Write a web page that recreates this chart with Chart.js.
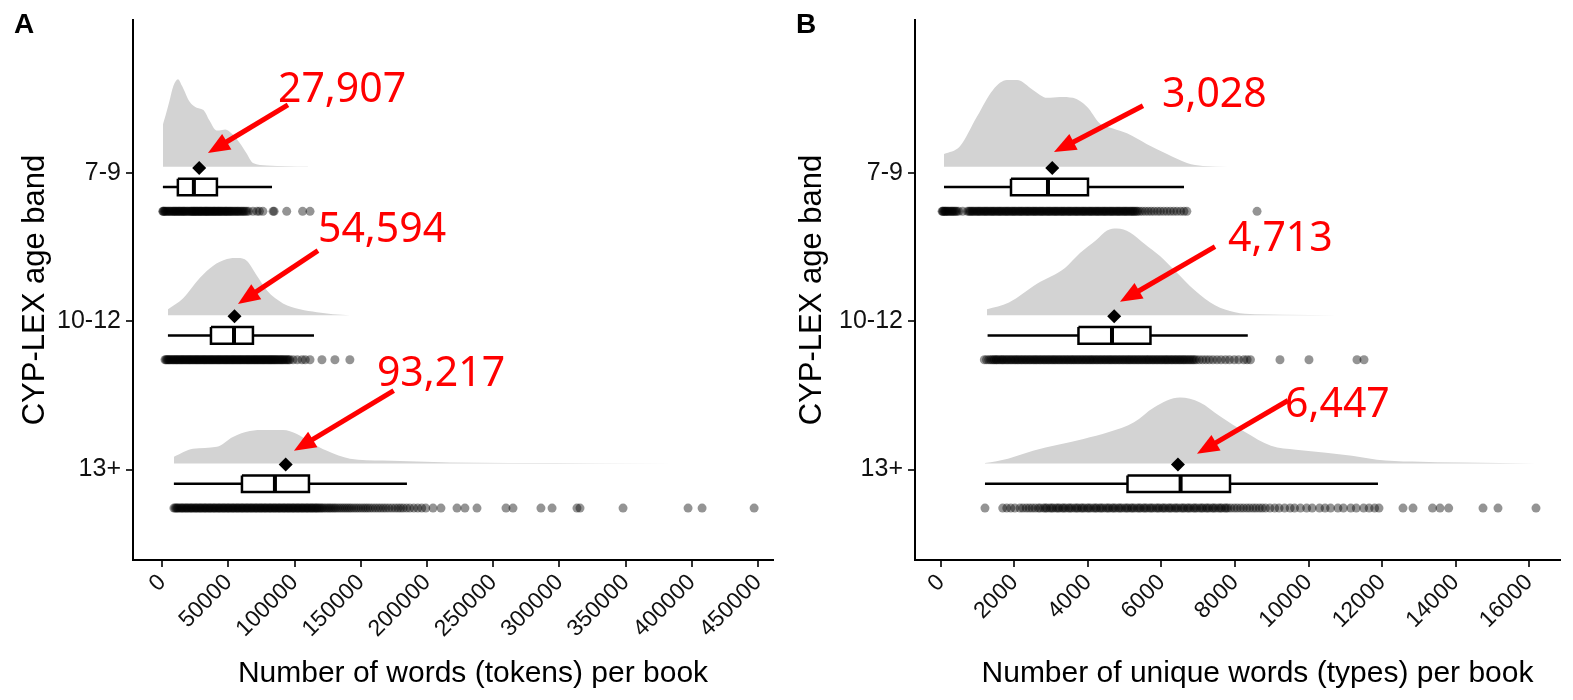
<!DOCTYPE html>
<html>
<head>
<meta charset="utf-8">
<script src="https://cdn.jsdelivr.net/npm/chart.js@4.4.1/dist/chart.umd.min.js"></script>
<style>
  body { margin: 0; background: #fff; }
  .wrap { display: flex; width: 1573px; height: 700px; }
</style>
</head>
<body>
<div class="wrap">
  <canvas id="panelA" width="786" height="700"></canvas>
  <canvas id="panelB" width="787" height="700"></canvas>
</div>
<script>
// age bands, top to bottom, and where they sit on the y scale
const ageBands = ['7-9', '10-12', '13+'];
const bandPos = [3, 2, 1];

// ---------- panel A: number of words (tokens) per book ----------
const tokenTicks = [0, 50000, 100000, 150000, 200000, 250000, 300000, 350000, 400000, 450000];
const tokenMeans = [27907, 54594, 93217];
// [lower whisker, q1, median, q3, upper whisker]
const tokenBox79 = [500, 11800, 23900, 41300, 82900];
const tokenBox1012 = [4300, 36800, 54200, 68500, 114600];
const tokenBox13 = [8800, 60200, 85100, 110800, 184800];
// density outline: x values and height (pixels of the original plot)
const tokenDensX79 = [500, 2500, 5300, 8400, 11900, 15000, 20700, 26000, 28800, 31600, 35700, 40900, 43000, 47600, 53100, 58700, 63500, 68500, 79000, 110000];
const tokenDensH79 = [43, 52, 66, 82, 89, 82, 66, 60, 59, 57, 47, 37, 37, 38, 33, 24, 14, 4, 1.5, 0.3];
const tokenDensX1012 = [4300, 15600, 28500, 38300, 48900, 57200, 64000, 71500, 79100, 91200, 104000, 116800, 128900, 141800];
const tokenDensH1012 = [6, 17, 38, 50, 57, 58, 55, 40, 25, 12, 6, 3, 1, 0];
const tokenDensX13 = [8800, 23200, 41300, 53400, 66200, 77600, 91200, 101700, 111500, 124400, 141800, 166600, 192400, 217300, 262600, 330600, 445400];
const tokenDensH13 = [7, 15, 17, 27, 33, 34, 34, 30, 22, 13, 5, 3, 2, 1, 0.6, 0.4, 0];
// individual books (rain)
const tokenPts79 = [400, 800, 1200, 1900, 2500, 3300, 4100, 4800, 5600, 6300, 7100, 8000, 8600, 9200, 9900, 10500, 11300, 12000, 12600, 13300, 13900,
  14700, 15400, 16000, 16600, 17200, 18100, 18800, 19500, 20400, 21100, 21800, 22300, 22900, 23500, 24000, 24600, 25200, 25800, 26300,
  26900, 27600, 28200, 28700, 29300, 29800, 30500, 31200, 31800, 32300, 33000, 33500, 34000, 34600, 35200, 35900, 36500, 37000, 37700,
  38400, 39000, 39500, 40100, 40800, 41500, 42100, 42700, 43300, 44000, 44600, 45300, 46000, 46800, 47500, 48100, 48700, 49400, 50200,
  50900, 51600, 52300, 53100, 54000, 54800, 55600, 56500, 57200, 58000, 59000, 59900, 60800, 61700, 62700, 63800, 65200, 68500, 71600,
  73400, 76000, 83700, 84500, 94000, 106000, 111600];
const tokenPts1012 = [2100, 2800, 3500, 4200, 4900, 5500, 6200, 7000, 7800, 8400, 9100, 9900, 10600, 11200, 11900, 12700, 13400, 14100, 14800,
  15400, 16100, 16800, 17500, 18200, 18900, 19600, 20300, 20900, 21600, 22300, 23000, 23700, 24400, 25100, 25800, 26400, 27100, 27800,
  28500, 29200, 29900, 30600, 31300, 31900, 32600, 33300, 34000, 34700, 35400, 36100, 36800, 37400, 38100, 38800, 39500, 40200, 40900,
  41600, 42300, 42900, 43600, 44300, 45000, 45700, 46400, 47100, 47800, 48400, 49100, 49800, 50500, 51200, 51900, 52600, 53300, 53900,
  54600, 55300, 56000, 56700, 57400, 58100, 58800, 59400, 60100, 60800, 61500, 62200, 62900, 63600, 64300, 64900, 65600, 66300, 67000,
  67700, 68400, 69100, 69800, 70400, 71100, 71800, 72500, 73200, 73900, 74600, 75300, 76000, 76600, 77300, 78000, 78700, 79400, 80100,
  80800, 81500, 82100, 82800, 83500, 84200, 84900, 85600, 86300, 87100, 87900, 88700, 89500, 90300, 91000, 91900, 92800, 93700, 94600,
  95500, 96400, 98800, 102000, 105600, 108000, 111600, 120600, 130400, 141700];
const tokenPts13 = [8800, 9700, 10500, 11300, 12000, 13000, 14000, 14800, 15500, 16500, 17500, 18300, 19000, 20000, 21000, 21800, 22500, 23500,
  24500, 25300, 26000, 27000, 28000, 28800, 29500, 30500, 31500, 32300, 33000, 34000, 35000, 35800, 36500, 37500, 38500, 39300, 40000,
  41000, 42000, 42800, 43500, 44500, 45500, 46300, 47000, 48000, 49000, 49800, 50500, 51500, 52500, 53300, 54000, 55000, 56000, 56800,
  57500, 58500, 59500, 60300, 61000, 62000, 63000, 63800, 64500, 65500, 66500, 67300, 68000, 69000, 70000, 70800, 71500, 72500, 73500,
  74300, 75000, 76000, 77000, 77800, 78500, 79500, 80500, 81300, 82000, 83000, 84000, 84800, 85500, 86500, 87500, 88300, 89000, 90000,
  91000, 91800, 92500, 93500, 94500, 95300, 96000, 97000, 98000, 98800, 99500, 100500, 101500, 102300, 103000, 104000, 105000, 105800,
  106500, 107500, 108500, 109300, 110000, 111000, 112000, 112800, 113500, 114500, 115500, 116300, 117000, 118000, 119000, 120000, 121000,
  122200, 123500, 124800, 126000, 127200, 128500, 129800, 131000, 132500, 134000, 135500, 137000, 138500, 140000, 141500, 143000, 144800,
  146500, 148200, 150000, 151800, 153500, 155200, 157000, 159000, 161000, 163000, 165000, 167000, 169000, 171200, 173500, 175800, 178000,
  180000, 182000, 184500, 187000, 190000, 193000, 196000, 199000, 204500, 210500, 222600, 228600, 237700, 259600, 264900, 286000, 294400,
  313200, 315500, 348000, 397100, 407700, 447000];

// ---------- panel B: number of unique words (types) per book ----------
const typeTicks = [0, 2000, 4000, 6000, 8000, 10000, 12000, 14000, 16000];
const typeMeans = [3028, 4713, 6447];
const typeBox79 = [82, 1905, 2911, 4000, 6612];
const typeBox1012 = [1268, 3741, 4653, 5700, 8348];
const typeBox13 = [1197, 5075, 6520, 7864, 11890];
const typeDensX79 = [82, 517, 980, 1415, 1796, 2068, 2503, 2884, 3238, 3592, 3973, 4326, 4680, 5061, 5605, 6149, 6694, 7129, 8490];
const typeDensH79 = [13, 21, 51, 78, 88, 88, 78, 70, 71, 70, 61, 44, 39, 34, 23, 13, 4, 1, 0];
const typeDensX1012 = [1252, 1850, 2612, 3374, 3782, 4218, 4517, 4789, 5143, 5551, 5959, 6367, 6911, 7456, 8000, 8544, 11537];
const typeDensH1012 = [6, 13, 32, 48, 63, 76, 86, 88, 84, 72, 60, 45, 25, 10, 3, 1, 0];
const typeDensX13 = [1197, 1823, 2503, 3184, 3877, 4571, 5252, 5796, 6503, 7047, 7592, 8272, 8979, 9660, 10476, 11183, 11863, 12816, 14204, 16190];
const typeDensH13 = [0.5, 5, 13, 19, 25, 32, 42, 57, 67, 62, 48, 32, 18, 14, 11, 8, 4, 2, 1, 0];
const typePts79 = [30, 50, 60, 90, 110, 130, 150, 180, 200, 230, 260, 290, 310, 340, 370, 400, 430, 480, 590, 720, 760, 790, 820, 850, 880, 910,
  950, 980, 1010, 1040, 1070, 1100, 1140, 1170, 1200, 1230, 1260, 1290, 1330, 1360, 1390, 1420, 1450, 1480, 1520, 1550, 1580, 1610, 1640,
  1670, 1710, 1740, 1770, 1800, 1830, 1860, 1900, 1930, 1960, 1990, 2020, 2050, 2090, 2120, 2150, 2180, 2210, 2240, 2280, 2310, 2340,
  2370, 2400, 2430, 2470, 2500, 2530, 2560, 2590, 2620, 2660, 2690, 2720, 2750, 2780, 2810, 2850, 2880, 2910, 2940, 2970, 3000, 3040,
  3070, 3100, 3130, 3160, 3190, 3230, 3260, 3290, 3320, 3350, 3380, 3420, 3450, 3480, 3510, 3540, 3570, 3610, 3640, 3670, 3700, 3730,
  3760, 3800, 3830, 3860, 3890, 3920, 3950, 3990, 4020, 4050, 4080, 4110, 4140, 4180, 4210, 4240, 4270, 4300, 4330, 4370, 4400, 4430,
  4460, 4490, 4520, 4560, 4590, 4620, 4650, 4680, 4710, 4750, 4780, 4810, 4840, 4870, 4900, 4940, 4970, 5000, 5030, 5060, 5090, 5130,
  5160, 5190, 5220, 5250, 5280, 5320, 5350, 5410, 5480, 5560, 5640, 5720, 5800, 5890, 5970, 6060, 6150, 6240, 6330, 6420, 6520, 6610,
  6690, 8600];
const typePts1012 = [1180, 1240, 1300, 1350, 1390, 1430, 1460, 1500, 1520, 1560, 1600, 1640, 1670, 1700, 1740, 1780, 1810, 1850, 1890, 1920,
  1960, 2000, 2030, 2070, 2100, 2140, 2180, 2210, 2250, 2290, 2320, 2360, 2400, 2430, 2470, 2510, 2540, 2580, 2610, 2650, 2690, 2720,
  2760, 2800, 2830, 2870, 2910, 2940, 2980, 3020, 3050, 3090, 3120, 3160, 3200, 3230, 3270, 3310, 3340, 3380, 3420, 3450, 3490, 3530,
  3560, 3600, 3630, 3670, 3710, 3740, 3780, 3820, 3850, 3890, 3930, 3960, 4000, 4040, 4070, 4110, 4140, 4180, 4220, 4250, 4290, 4330,
  4360, 4400, 4440, 4470, 4510, 4550, 4580, 4620, 4650, 4690, 4730, 4760, 4800, 4840, 4870, 4910, 4950, 4980, 5020, 5060, 5090, 5130,
  5160, 5200, 5240, 5270, 5310, 5350, 5380, 5420, 5460, 5490, 5530, 5570, 5600, 5640, 5670, 5710, 5750, 5780, 5820, 5860, 5890, 5930,
  5970, 6000, 6040, 6080, 6110, 6150, 6180, 6220, 6260, 6290, 6330, 6370, 6400, 6440, 6480, 6510, 6550, 6590, 6620, 6660, 6700, 6740,
  6780, 6820, 6860, 6900, 6950, 7030, 7120, 7210, 7300, 7400, 7510, 7620, 7740, 7850, 7980, 8100, 8240, 8330, 8420, 9224, 10013, 11319,
  11510];
const typePts13 = [1197, 1680, 1790, 1900, 2010, 2150, 2230, 2320, 2400, 2480, 2560, 2650, 2700, 2790, 2840, 2880, 2960, 3010, 3050, 3130, 3180,
  3220, 3300, 3340, 3390, 3470, 3510, 3560, 3640, 3690, 3730, 3810, 3850, 3900, 3980, 4020, 4070, 4150, 4200, 4240, 4320, 4360, 4410,
  4490, 4540, 4580, 4660, 4700, 4750, 4830, 4870, 4920, 5000, 5050, 5090, 5170, 5210, 5260, 5340, 5390, 5430, 5510, 5550, 5600, 5680,
  5720, 5770, 5850, 5900, 5940, 6020, 6060, 6110, 6190, 6230, 6280, 6360, 6400, 6450, 6530, 6580, 6620, 6700, 6740, 6790, 6870, 6910,
  6960, 7040, 7090, 7130, 7210, 7250, 7300, 7380, 7420, 7470, 7550, 7600, 7640, 7720, 7760, 7810, 7890, 7980, 8060, 8150, 8230, 8320,
  8400, 8490, 8570, 8660, 8740, 8830, 8950, 9080, 9200, 9350, 9500, 9620, 9780, 9950, 10100, 10300, 10450, 10600, 10800, 10950, 11150,
  11300, 11500, 11650, 11800, 11918, 12571, 12843, 13374, 13578, 13814, 14748, 15156, 16190];

const pxPerBand = 150.5;   // original plot: pixels between two age bands

Chart.defaults.font.family = '"Liberation Sans", Arial, sans-serif';
Chart.defaults.color = '#111';

// red call-out arrows with the mean value, the panel letter and the x title
const arrowLabels = {
  id: 'arrowLabels',
  afterDatasetsDraw(chart, args, opts) {
    const { ctx, chartArea, scales: { x, y } } = chart;
    ctx.save();
    ctx.strokeStyle = '#ff0000';
    ctx.fillStyle = '#ff0000';
    ctx.lineWidth = 5;
    opts.items.forEach(it => {
      const tx = x.getPixelForValue(it.tip[0]), ty = y.getPixelForValue(it.tip[1]);
      const sx = x.getPixelForValue(it.tail[0]), sy = y.getPixelForValue(it.tail[1]);
      const a = Math.atan2(ty - sy, tx - sx);
      const len = 22, half = 9;
      ctx.beginPath();
      ctx.moveTo(sx, sy);
      ctx.lineTo(tx - len * 0.8 * Math.cos(a), ty - len * 0.8 * Math.sin(a));
      ctx.stroke();
      ctx.beginPath();
      ctx.moveTo(tx, ty);
      ctx.lineTo(tx - len * Math.cos(a) + half * Math.sin(a), ty - len * Math.sin(a) - half * Math.cos(a));
      ctx.lineTo(tx - len * Math.cos(a) - half * Math.sin(a), ty - len * Math.sin(a) + half * Math.cos(a));
      ctx.closePath();
      ctx.fill();
      ctx.font = '41px "Noto Sans", sans-serif';
      ctx.textAlign = 'left';
      ctx.textBaseline = 'alphabetic';
      ctx.fillText(it.text, x.getPixelForValue(it.at[0]), y.getPixelForValue(it.at[1]));
    });
    ctx.fillStyle = '#000';
    ctx.font = 'bold 28px "Liberation Sans", Arial, sans-serif';
    ctx.fillText(opts.tag, opts.tagX, 33);
    // x axis title sits a little right of the panel centre in the original
    ctx.font = '30px "Liberation Sans", Arial, sans-serif';
    ctx.textAlign = 'center';
    ctx.fillText(opts.xTitle, (chartArea.left + chartArea.right) / 2 + 20, 682);
    ctx.restore();
  }
};

function buildDatasets(groups, means) {
  const ds = [];
  groups.forEach((g, i) => {
    const c = bandPos[i];
    const base = c + 0.04;
    const bc = c - 0.096, bt = bc + 0.056, bb = bc - 0.056;
    const [lo, q1, med, q3, hi] = g.box;
    ds.push({
      type: 'line',
      data: g.densX.map((v, k) => ({ x: v, y: base + g.densH[k] / pxPerBand })),
      fill: { value: base },
      backgroundColor: '#d3d3d3',
      borderColor: 'rgba(0,0,0,0)',
      borderWidth: 0,
      pointRadius: 0,
      cubicInterpolationMode: 'monotone',
      order: 6
    });
    ds.push({
      type: 'line',
      data: [{ x: lo, y: bc }, { x: q1, y: bc }, { x: q1, y: null }, { x: q3, y: bc }, { x: hi, y: bc }, { x: hi, y: null },
        { x: q1, y: bt }, { x: q3, y: bt }, { x: q3, y: bb }, { x: q1, y: bb }, { x: q1, y: bt }],
      borderColor: '#000',
      borderWidth: 2.5,
      pointRadius: 0,
      fill: false,
      spanGaps: false,
      order: 4
    });
    ds.push({
      type: 'line',
      data: [{ x: med, y: bt }, { x: med, y: bb }],
      borderColor: '#000',
      borderWidth: 4,
      pointRadius: 0,
      fill: false,
      order: 3
    });
    ds.push({
      type: 'scatter',
      data: g.pts.map(v => ({ x: v, y: c - 0.26 })),
      backgroundColor: 'rgba(0,0,0,0.42)',
      borderWidth: 0,
      pointRadius: 4.5,
      order: 2
    });
  });
  ds.push({
    type: 'scatter',
    data: means.map((m, i) => ({ x: m, y: bandPos[i] + 0.033 })),
    backgroundColor: '#000',
    borderWidth: 0,
    pointStyle: 'rectRot',
    pointRadius: 7,
    order: 1
  });
  return ds;
}

function makePanel(id, o) {
  return new Chart(document.getElementById(id), {
    type: 'line',
    data: { datasets: buildDatasets(o.groups, o.means) },
    options: {
      responsive: false,
      animation: false,
      layout: { padding: { left: 0, top: 12, right: 13, bottom: 0 } },
      plugins: {
        legend: { display: false },
        tooltip: { enabled: false },
        arrowLabels: { items: o.labels, tag: o.tag, tagX: o.tagX, xTitle: o.xTitle }
      },
      scales: {
        x: {
          type: 'linear',
          min: o.xMin,
          max: o.xMax,
          afterBuildTicks: s => { s.ticks = o.ticks.map(v => ({ value: v })); },
          afterFit: s => { s.height = 140; },
          ticks: {
            autoSkip: false,
            minRotation: 45,
            maxRotation: 45,
            padding: 2,
            font: { size: 23 },
            color: '#111',
            callback: v => String(v)
          },
          grid: { drawOnChartArea: false, drawTicks: true, tickLength: 7, color: '#333', lineWidth: 2 },
          border: { display: true, color: '#000', width: 2 },
          title: { display: false }
        },
        y: {
          type: 'linear',
          min: 0.39,
          max: 4.03,
          afterBuildTicks: s => { s.ticks = bandPos.map(v => ({ value: v })); },
          afterFit: s => { s.width = o.yWidth; },
          ticks: {
            padding: 5,
            font: { size: 25 },
            color: '#111',
            callback: v => ageBands[bandPos.indexOf(v)]
          },
          grid: { drawOnChartArea: false, drawTicks: true, tickLength: 7, color: '#333', lineWidth: 2 },
          border: { display: true, color: '#000', width: 2 },
          title: { display: true, text: 'CYP-LEX age band', font: { size: 31 }, color: '#000', padding: { top: o.yTitlePad, bottom: 0 } }
        }
      }
    },
    plugins: [arrowLabels]
  });
}

makePanel('panelA', {
  groups: [
    { box: tokenBox79, densX: tokenDensX79, densH: tokenDensH79, pts: tokenPts79 },
    { box: tokenBox1012, densX: tokenDensX1012, densH: tokenDensH1012, pts: tokenPts1012 },
    { box: tokenBox13, densX: tokenDensX13, densH: tokenDensH13, pts: tokenPts13 }
  ],
  means: tokenMeans,
  ticks: tokenTicks,
  xMin: -22080,
  xMax: 461250,
  yWidth: 133,
  yTitlePad: 17,
  xTitle: 'Number of words (tokens) per book',
  tag: 'A',
  tagX: 14,
  labels: [
    { text: tokenMeans[0].toLocaleString('en-US'), at: [87400, 3.478], tail: [94940, 3.458], tip: [34520, 3.133] },
    { text: tokenMeans[1].toLocaleString('en-US'), at: [117600, 2.535], tail: [117600, 2.475], tip: [57180, 2.116] },
    { text: tokenMeans[2].toLocaleString('en-US'), at: [162100, 1.565], tail: [174800, 1.532], tip: [99470, 1.126] }
  ]
});

makePanel('panelB', {
  groups: [
    { box: typeBox79, densX: typeDensX79, densH: typeDensH79, pts: typePts79 },
    { box: typeBox1012, densX: typeDensX1012, densH: typeDensH1012, pts: typePts1012 },
    { box: typeBox13, densX: typeDensX13, densH: typeDensH13, pts: typePts13 }
  ],
  means: typeMeans,
  ticks: typeTicks,
  xMin: -707,
  xMax: 16843,
  yWidth: 129,
  yTitlePad: 8,
  xTitle: 'Number of unique words (types) per book',
  tag: 'B',
  tagX: 10,
  labels: [
    { text: typeMeans[0].toLocaleString('en-US'), at: [6013, 3.445], tail: [5496, 3.452], tip: [3075, 3.140] },
    { text: typeMeans[1].toLocaleString('en-US'), at: [7809, 2.475], tail: [7456, 2.502], tip: [4871, 2.130] },
    { text: typeMeans[2].toLocaleString('en-US'), at: [9360, 1.352], tail: [9442, 1.465], tip: [6966, 1.106] }
  ]
});
</script>
</body>
</html>
